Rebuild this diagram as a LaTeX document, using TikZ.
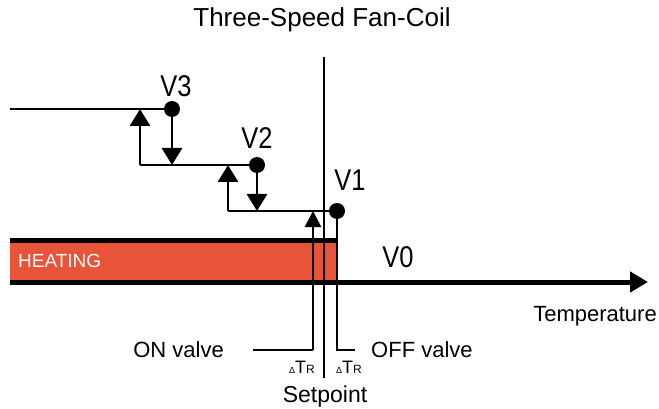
\documentclass[tikz,border=0pt]{standalone}
\usepackage{fontspec}
\setmainfont{Liberation Sans}
\newfontfamily\vfont[FakeStretch=0.85]{Liberation Sans}
\usetikzlibrary{arrows.meta}

\definecolor{heatred}{RGB}{232,84,58}

\tikzset{
  stair/.style={line width=2.8pt},
  dot/.style={circle, fill=black, inner sep=0pt, minimum size=16pt},
  uparr/.style={line width=2.8pt, -{Triangle[width=20pt,length=17pt]}},
  onarr/.style={line width=2.8pt, -{Triangle[width=16pt,length=16pt]}},
  axis/.style={line width=5pt, -{Triangle[width=20pt,length=18pt]}},
  speed/.style={font=\vfont\fontsize{30}{30}\selectfont},
  lbl/.style={font=\fontsize{22}{22}\selectfont, inner sep=0pt}
}

\newcommand{\dtr}{{\fontsize{9}{9}\selectfont Δ}{\fontsize{18}{18}\selectfont T}{\fontsize{12}{12}\selectfont R}}

\begin{document}
\begin{tikzpicture}[x=1pt, y=-1pt]
  \useasboundingbox (0,0) rectangle (659,409);
  % heating band
  \fill[heatred] (10,240) rectangle (337,282);
  \coordinate (bartl) at (10,240);
  \coordinate (bartr) at (337,240);
  \coordinate (axisl) at (10,282);
  \coordinate (axisr) at (648,282);
  \draw[line width=5pt] (bartl) -- (bartr);
  \draw[axis] (axisl) -- (axisr);
  \node[anchor=west, text=white, font=\fontsize{19}{19}\selectfont, inner sep=0pt] (heat) at (18,261) {HEATING};

  % setpoint
  \coordinate (sptop) at (324,57);
  \coordinate (spbot) at (324,378);
  \draw[stair] (sptop) -- (spbot);

  % speed steps
  \coordinate (v3start) at (10,109);
  \coordinate (v3) at (172,109);
  \coordinate (v2) at (257,165);
  \coordinate (v1) at (337,211);
  \coordinate (up3) at (140,165);
  \coordinate (up2) at (228,211);
  \coordinate (onbot) at (313,350);
  \coordinate (onend) at (253,350);
  \coordinate (offbot) at (337,350);
  \coordinate (offend) at (355,350);

  \draw[stair] (v3start) -- (v3);
  \draw[stair] (up3) -- (v2);
  \draw[stair] (up2) -- (v1);
  \draw[uparr] (v3) -- (v3 |- up3);
  \draw[uparr] (up3) -- (up3 |- v3);
  \draw[uparr] (v2) -- (v2 |- up2);
  \draw[uparr] (up2) -- (up2 |- v2);
  \draw[stair] (onend) -- (onbot);
  \draw[onarr] (onbot) -- (onbot |- v1);
  \draw[stair] (v1) -- (offbot) -- (offend);

  \node[dot] (d3) at (v3) {};
  \node[dot] (d2) at (v2) {};
  \node[dot] (d1) at (v1) {};

  % labels
  \node[font=\fontsize{26}{26}\selectfont, inner sep=0pt] (title) at (322,20) {Three-Speed Fan-Coil};
  \node[speed, inner sep=0pt] (l3) at (176,86) {V3};
  \node[speed, inner sep=0pt] (l2) at (257,138) {V2};
  \node[speed, inner sep=0pt] (l1) at (350,180) {V1};
  \node[speed, inner sep=0pt] (l0) at (398,257) {V0};
  \node[lbl, anchor=base] (temp) at (595,321) {Temperature};
  \node[lbl, anchor=base east] (onlbl) at (224,357) {ON valve};
  \node[lbl, anchor=base west] (offlbl) at (371,357) {OFF valve};
  \node[anchor=base, inner sep=0pt, font=\fontsize{23}{23}\selectfont] (setp) at (325,402) {Setpoint};
  \node[anchor=base, inner sep=0pt] (dtrl) at (302,373) {\dtr};
  \node[anchor=base, inner sep=0pt] (dtrr) at (349,373) {\dtr};
\end{tikzpicture}
\end{document}
